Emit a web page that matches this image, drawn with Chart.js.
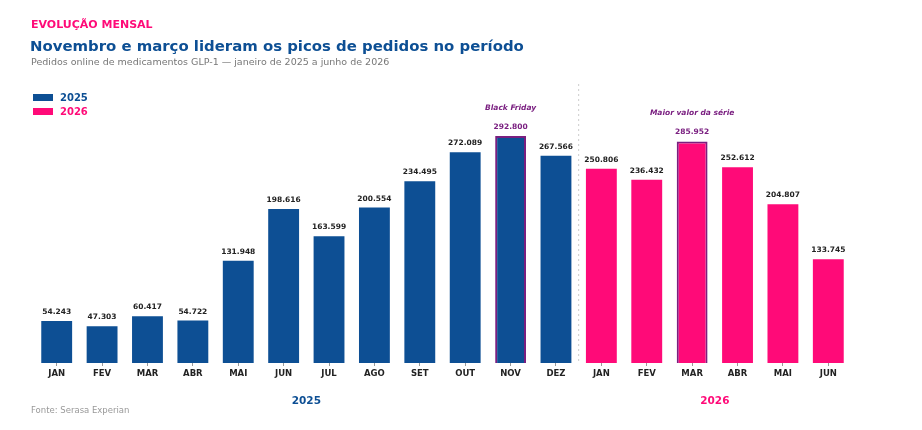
<!DOCTYPE html>
<html>
<head>
<meta charset="utf-8">
<script src="https://cdn.jsdelivr.net/npm/chart.js@4"></script>
<style>
  html, body { margin: 0; padding: 0; background: #fff; }
  body { width: 922px; height: 430px; position: relative; overflow: hidden; font-family: "DejaVu Sans", sans-serif; }
  #wrap { position: absolute; left: 0; top: 0; width: 922px; height: 430px; }
  .txt { position: absolute; white-space: nowrap; }
  #kicker { left: 31px; top: 18px; font-size: 11px; font-weight: bold; color: #ff0a78; }
  #title { left: 30px; top: 37px; font-size: 14.9px; font-weight: bold; color: #0d4f94; }
  #sub { left: 31px; top: 56px; font-size: 9.5px; color: #777; }
  #source { left: 31px; top: 405px; font-size: 8.5px; color: #999; }
  .leg { position: absolute; left: 33px; font-size: 10px; font-weight: bold; }
  .leg span { display: inline-block; width: 20px; height: 7px; margin-right: 7px; vertical-align: 0px; }
</style>
</head>
<body>
<div id="wrap"><canvas id="chart" width="922" height="430"></canvas></div>
<div class="txt" id="kicker">EVOLUÇÃO MENSAL</div>
<div class="txt" id="title">Novembro e março lideram os picos de pedidos no período</div>
<div class="txt" id="sub">Pedidos online de medicamentos GLP-1 — janeiro de 2025 a junho de 2026</div>
<div class="leg" style="top:92px;color:#0d4f94"><span style="background:#0d4f94"></span>2025</div>
<div class="leg" style="top:106px;color:#ff0a78"><span style="background:#ff0a78"></span>2026</div>
<div class="txt" id="source">Fonte: Serasa Experian</div>
<script>
const months = ["JAN", "FEV", "MAR", "ABR", "MAI", "JUN", "JUL", "AGO", "SET", "OUT", "NOV", "DEZ",
                "JAN", "FEV", "MAR", "ABR", "MAI", "JUN"];
const orders2025 = [54243, 47303, 60417, 54722, 131948, 198616, 163599, 200554, 234495, 272089, 292800, 267566];
const orders2026 = [250806, 236432, 285952, 252612, 204807, 133745];
const notes = { 10: "Black Friday", 14: "Maior valor da série" };

const blue = "#0d4f94";
const pink = "#ff0a78";
const purple = "#7a1f80";

const data2025 = months.map((m, i) => i < 12 ? orders2025[i] : null);
const data2026 = months.map((m, i) => i >= 12 ? orders2026[i - 12] : null);
const allValues = months.map((m, i) => i < 12 ? orders2025[i] : orders2026[i - 12]);

const fmt = v => v.toLocaleString("de-DE");

const overlay = {
  id: "overlay",
  afterDatasetsDraw(chart) {
    const { ctx, scales: { x, y }, chartArea } = chart;
    ctx.save();
    // separator between years
    const sepX = (x.getPixelForValue(11) + x.getPixelForValue(12)) / 2;
    ctx.strokeStyle = "#cccccc";
    ctx.lineWidth = 1;
    ctx.setLineDash([2, 3]);
    ctx.beginPath();
    ctx.moveTo(sepX, chartArea.top);
    ctx.lineTo(sepX, chartArea.bottom);
    ctx.stroke();
    ctx.setLineDash([]);

    ctx.textAlign = "center";
    ctx.textBaseline = "alphabetic";
    allValues.forEach((v, i) => {
      const px = x.getPixelForValue(i);
      const py = y.getPixelForValue(v);
      const hl = notes[i] !== undefined;
      ctx.fillStyle = hl ? purple : "#222";
      ctx.font = "bold 7.5px 'DejaVu Sans'";
      ctx.fillText(fmt(v), px, py - 7);
      if (hl) {
        ctx.font = "italic bold 7.5px 'DejaVu Sans'";
        ctx.fillText(notes[i], px, py - 26);
      }
    });

    // year labels
    ctx.font = "bold 10.5px 'DejaVu Sans'";
    ctx.fillStyle = blue;
    ctx.fillText("2025", (x.getPixelForValue(0) + x.getPixelForValue(11)) / 2, 404);
    ctx.fillStyle = pink;
    ctx.fillText("2026", (x.getPixelForValue(12) + x.getPixelForValue(17)) / 2, 404);
    ctx.restore();
  }
};

new Chart(document.getElementById("chart"), {
  type: "bar",
  data: {
    labels: months,
    datasets: [
      {
        label: "2025",
        data: data2025,
        backgroundColor: blue,
        borderColor: months.map((m, i) => notes[i] ? purple : blue),
        borderWidth: months.map((m, i) => notes[i] ? 2 : 0),
        grouped: false,
        barPercentage: 0.68,
        categoryPercentage: 1
      },
      {
        label: "2026",
        data: data2026,
        backgroundColor: pink,
        borderColor: months.map((m, i) => notes[i] ? purple : pink),
        borderWidth: months.map((m, i) => notes[i] ? 2 : 0),
        grouped: false,
        barPercentage: 0.68,
        categoryPercentage: 1
      }
    ]
  },
  options: {
    responsive: false,
    animation: false,
    layout: { padding: { left: 34, right: 71, top: 84, bottom: 47 } },
    plugins: {
      legend: { display: false },
      tooltip: { enabled: false }
    },
    scales: {
      x: {
        grid: { display: true, drawOnChartArea: false, offset: false, tickLength: 3, color: "#999" },
        border: { display: false },
        ticks: { color: "#222", font: { family: "DejaVu Sans", size: 8.5, weight: "bold" }, padding: 3 },
        afterFit(scale) { scale.height = 20; }
      },
      y: {
        display: false,
        min: 0,
        max: 360000
      }
    }
  },
  plugins: [overlay]
});
</script>
</body>
</html>
